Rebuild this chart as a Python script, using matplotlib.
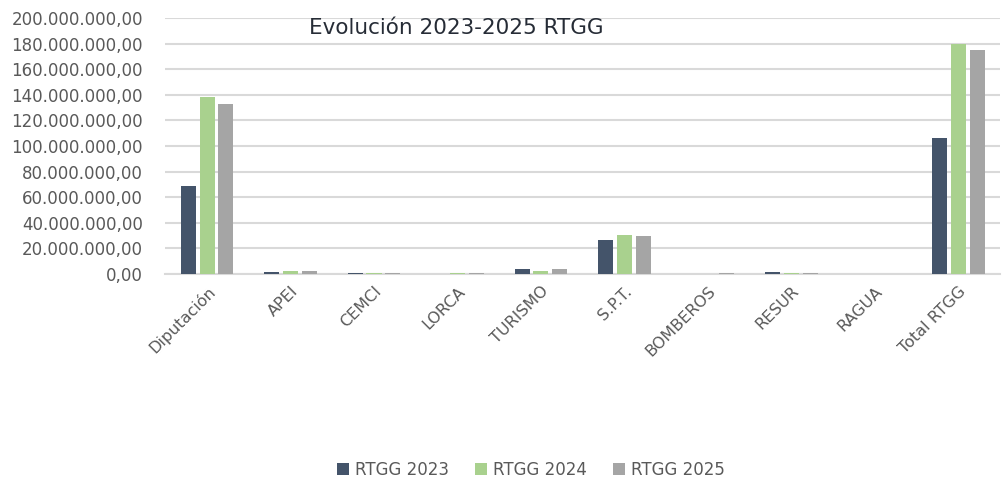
import numpy as np
import matplotlib.pyplot as plt
from matplotlib.ticker import FuncFormatter, MultipleLocator

# Datos
categorias = ['Diputación', 'APEI', 'CEMCI', 'LORCA', 'TURISMO', 'S.P.T.',
              'BOMBEROS', 'RESUR', 'RAGUA', 'Total RTGG']
rtgg_2023 = [69.0e6, 1.2e6, 0.9e6, 0.3e6, 3.6e6, 26.8e6, 0.3e6, 1.2e6, 0.2e6, 106.2e6]
rtgg_2024 = [138.3e6, 2.0e6, 0.7e6, 0.8e6, 2.4e6, 30.5e6, 0.2e6, 0.9e6, 0.1e6, 179.7e6]
rtgg_2025 = [132.8e6, 2.5e6, 1.0e6, 1.0e6, 3.6e6, 29.4e6, 0.7e6, 1.0e6, 0.0, 175.2e6]

series = [('RTGG 2023', rtgg_2023, '#44546a'),
          ('RTGG 2024', rtgg_2024, '#a9d18e'),
          ('RTGG 2025', rtgg_2025, '#a5a5a5')]

plt.rcParams['font.family'] = ['DejaVu Sans']

fig = plt.figure(figsize=(10.02, 4.82), dpi=100)
ax = fig.add_axes([0.165, 0.4315, 0.833, 0.5312])

x = np.arange(len(categorias))
ancho = 0.18
paso = 0.225
for i, (nombre, vals, color) in enumerate(series):
    ax.bar(x + (i - 1) * paso, vals, width=ancho, color=color, label=nombre, zorder=3)

def formato_es(v, pos):
    s = f'{v:,.2f}'
    return s.replace(',', 'X').replace('.', ',').replace('X', '.')

ax.set_ylim(0, 200e6)
ax.set_xlim(-0.5, len(categorias) - 0.5)
ax.yaxis.set_major_locator(MultipleLocator(20e6))
ax.yaxis.set_major_formatter(FuncFormatter(formato_es))
ax.grid(axis='y', color='#d9d9d9', linewidth=1.5, zorder=0)

for lado in ['left', 'right', 'top']:
    ax.spines[lado].set_visible(False)
ax.spines['bottom'].set_color('#d9d9d9')
ax.spines['bottom'].set_linewidth(1.5)

ax.tick_params(axis='both', length=0, labelcolor='#595959')
ax.tick_params(axis='y', pad=16, labelsize=12)
ax.tick_params(axis='x', pad=7, labelsize=11.5)
ax.set_xticks(x)
ax.set_xticklabels(categorias, rotation=45, ha='right', rotation_mode='anchor')

ax.text(0.349, 0.96, 'Evolución 2023-2025 RTGG', transform=ax.transAxes,
        ha='center', va='center', fontsize=15.5, color='#262c36')

fig.legend(loc='center', bbox_to_anchor=(0.53, 0.025), ncol=3, frameon=False,
           fontsize=12, handlelength=0.7, handleheight=0.7, columnspacing=1.6,
           handletextpad=0.35, labelcolor='#595959')

fig.savefig('out.png', dpi=100)
